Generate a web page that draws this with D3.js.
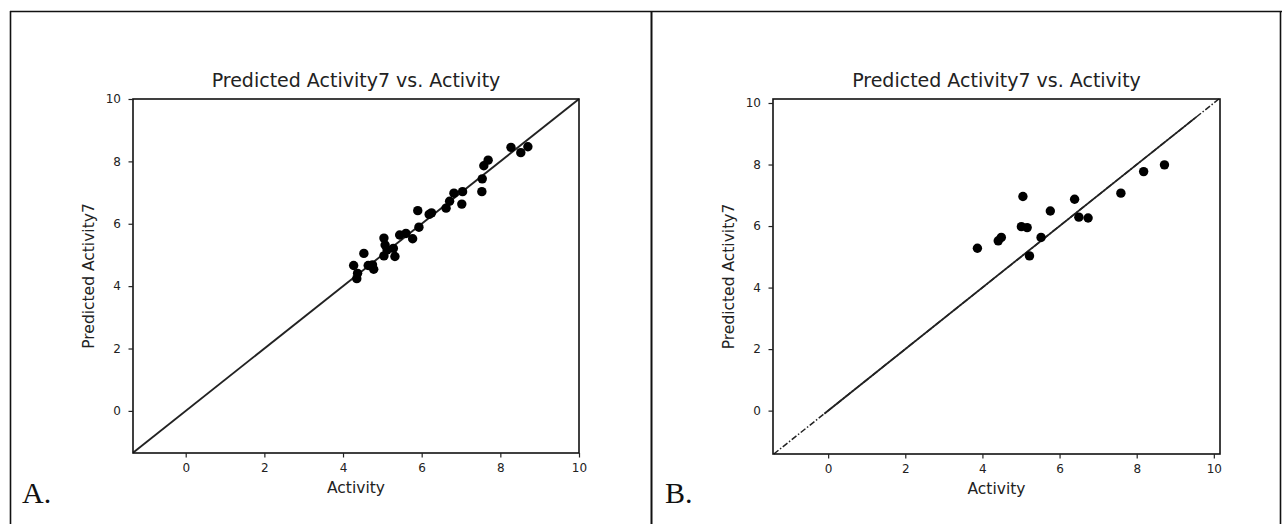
<!DOCTYPE html>
<html><head><meta charset="utf-8">
<script src="https://cdn.jsdelivr.net/npm/d3@7"></script>
<style>body{margin:0;background:#fff}svg{display:block}</style>
</head><body><svg id="c" width="1282" height="524"></svg>
<script>
// ---- data ----
const activityA  = [4.27,4.35,4.37,4.53,4.64,4.75,4.78,5.04,5.07,5.04,5.12,5.28,5.32,5.44,5.60,5.77,5.90,5.93,6.19,6.25,6.62,6.71,6.82,7.04,7.02,7.53,7.54,7.58,7.69,8.27,8.52,8.70];
const predictedA = [4.66,4.24,4.41,5.05,4.66,4.68,4.54,5.54,5.32,4.97,5.16,5.21,4.95,5.64,5.69,5.52,6.42,5.89,6.30,6.35,6.50,6.72,6.98,7.03,6.63,7.03,7.44,7.86,8.04,8.45,8.28,8.47];
const activityB  = [3.87,4.41,4.49,5.05,5.01,5.16,5.22,5.52,5.76,6.39,6.50,6.74,7.59,8.18,8.72];
const predictedB = [5.28,5.52,5.63,6.96,5.98,5.95,5.03,5.63,6.49,6.87,6.29,6.26,7.07,7.77,7.99];
const tickValues = [0,2,4,6,8,10];
const titleText = "Predicted Activity7 vs. Activity";
const xLabel = "Activity";
const yLabel = "Predicted Activity7";
const panelLabels = ["A.", "B."];

const svg = d3.select("#c");

// outer table borders
svg.append("line").attr("x1",10).attr("x2",1282).attr("y1",11.5).attr("y2",11.5).attr("stroke","#111").attr("stroke-width",1.6);
svg.append("line").attr("x1",10.5).attr("x2",10.5).attr("y1",11).attr("y2",524).attr("stroke","#111").attr("stroke-width",1.6);
svg.append("line").attr("x1",651.5).attr("x2",651.5).attr("y1",11).attr("y2",524).attr("stroke","#111").attr("stroke-width",2);
svg.append("line").attr("x1",1280.5).attr("x2",1280.5).attr("y1",11).attr("y2",524).attr("stroke","#111").attr("stroke-width",1.6);

const panels = [
  {label: panelLabels[0], xs: activityA, ys: predictedA, left:133, right:579, top:99, bottom:453,
   xd:[-1.34,10], yd:[-1.35,10], labelX:22, ylabX:94, xlabY:493, dash:false},
  {label: panelLabels[1], xs: activityB, ys: predictedB, left:773, right:1220, top:99, bottom:454,
   xd:[-1.43,10.16], yd:[-1.41,10.13], labelX:665, ylabX:734, xlabY:494, dash:true}
];

const sans = "'DejaVu Sans', sans-serif";

panels.forEach(p => {
  const x = d3.scaleLinear().domain(p.xd).range([p.left, p.right]);
  const y = d3.scaleLinear().domain(p.yd).range([p.bottom, p.top]);
  const g = svg.append("g");

  // diagonal identity line
  const lo = Math.max(p.xd[0], p.yd[0]), hi = Math.min(p.xd[1], p.yd[1]);
  const line = d3.line().x(d => x(d)).y(d => y(d));
  if (p.dash) {
    g.append("path").attr("d", line([lo, hi])).attr("stroke","#222").attr("stroke-width",1.5)
      .attr("fill","none").attr("stroke-dasharray","6,2,1.5,2");
    g.append("path").attr("d", line([-0.1, 9.55])).attr("stroke","#222").attr("stroke-width",1.8).attr("fill","none");
  } else {
    g.append("path").attr("d", line([lo, hi])).attr("stroke","#222").attr("stroke-width",1.9).attr("fill","none");
  }

  // points
  g.selectAll("circle").data(p.xs.map((v,i)=>[v,p.ys[i]])).enter().append("circle")
    .attr("cx", d => x(d[0])).attr("cy", d => y(d[1])).attr("r", 4.7).attr("fill","#000");

  // frame
  g.append("rect").attr("x", p.left).attr("y", p.top).attr("width", p.right-p.left).attr("height", p.bottom-p.top)
    .attr("fill","none").attr("stroke","#111").attr("stroke-width",1.6);

  // axes
  const ax = g.append("g").attr("transform", `translate(0,${p.bottom})`)
    .call(d3.axisBottom(x).tickValues(tickValues).tickSize(4.5).tickPadding(5.5).tickFormat(d3.format("d")));
  const ay = g.append("g").attr("transform", `translate(${p.left},0)`)
    .call(d3.axisLeft(y).tickValues(tickValues).tickSize(4.5).tickPadding(7.5).tickFormat(d3.format("d")));
  [ax, ay].forEach(a => {
    a.select(".domain").remove();
    a.selectAll("line").attr("stroke","#222").attr("stroke-width",1.2);
    a.selectAll("text").attr("font-family", sans).attr("font-size", 12).attr("fill","#222");
  });

  // title
  g.append("text").attr("x", (p.left+p.right)/2).attr("y", 87).attr("text-anchor","middle")
    .attr("font-family", sans).attr("font-size", 19).attr("fill","#222").text(titleText);
  // x label
  g.append("text").attr("x", (p.left+p.right)/2).attr("y", p.xlabY).attr("text-anchor","middle")
    .attr("font-family", sans).attr("font-size", 15.5).attr("fill","#222").text(xLabel);
  // y label
  g.append("text").attr("transform", `translate(${p.ylabX},${(p.top+p.bottom)/2}) rotate(-90)`).attr("text-anchor","middle")
    .attr("font-family", sans).attr("font-size", 15.5).attr("fill","#222").text(yLabel);
  // panel letter
  g.append("text").attr("x", p.labelX).attr("y", 503).attr("font-family","'Liberation Serif', 'Times New Roman', serif")
    .attr("font-size", 30).attr("fill","#111").text(p.label);
});
</script></body></html>
